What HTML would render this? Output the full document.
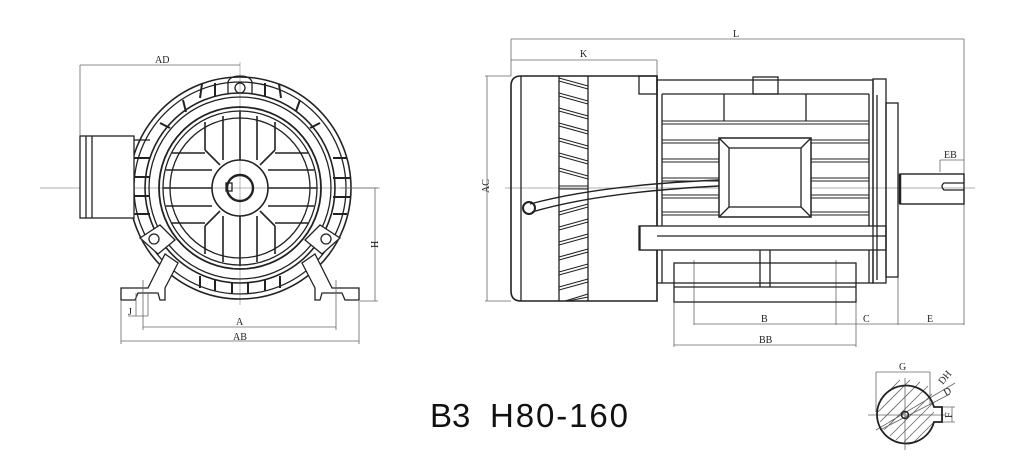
<!DOCTYPE html>
<html><head><meta charset="utf-8"><style>
html,body{margin:0;padding:0;background:#fff;}
svg{display:block}
text{font-family:"Liberation Serif",serif;fill:#222}
</style></head><body>
<svg width="1024" height="459" viewBox="0 0 1024 459" xmlns="http://www.w3.org/2000/svg">
<g fill="none" stroke="#222" stroke-width="1.3">
<line x1="40" y1="188" x2="380" y2="188" stroke="#999" stroke-width="0.7"/>
<line x1="240" y1="62" x2="240" y2="305" stroke="#999" stroke-width="0.7"/>
<circle cx="240" cy="188" r="111" stroke-width="1.6"/>
<circle cx="240" cy="188" r="106"/>
<circle cx="240" cy="188" r="95" stroke-width="1.6"/>
<circle cx="240" cy="188" r="91"/>
<circle cx="240" cy="188" r="81" stroke-width="1.8"/>
<circle cx="240" cy="188" r="77"/>
<circle cx="240" cy="188" r="70"/>
<circle cx="240" cy="188" r="28" stroke-width="1.6"/>
<circle cx="240" cy="188" r="13" stroke-width="2.4"/>
<rect x="226" y="183" width="6" height="8"/>
<g stroke-width="2">
<line x1="202" y1="84" x2="200" y2="98"/><line x1="215" y1="83" x2="215" y2="96"/>
<line x1="265" y1="83" x2="265" y2="96"/><line x1="279" y1="84" x2="281" y2="98"/>
<line x1="300" y1="100" x2="296" y2="111"/><line x1="183" y1="100" x2="186" y2="112"/>
<line x1="160" y1="123" x2="170" y2="128"/><line x1="320" y1="123" x2="310" y2="128"/>
<line x1="134" y1="158" x2="150" y2="158"/><line x1="333" y1="158" x2="347" y2="158"/>
<line x1="134" y1="177" x2="150" y2="177"/><line x1="333" y1="178" x2="350" y2="178"/>
<line x1="134" y1="196" x2="150" y2="196"/><line x1="333" y1="197" x2="350" y2="197"/>
<line x1="135" y1="214" x2="150" y2="214"/><line x1="333" y1="214" x2="347" y2="214"/>
<line x1="200" y1="276" x2="200" y2="288"/><line x1="215" y1="279" x2="215" y2="291"/>
<line x1="232" y1="282" x2="232" y2="293"/><line x1="248" y1="282" x2="248" y2="293"/>
<line x1="265" y1="279" x2="265" y2="291"/><line x1="280" y1="276" x2="280" y2="288"/>
</g>
<path d="M228 94 L228 82 Q230 76 240 76 Q250 76 252 82 L252 94"/>
<circle cx="240" cy="88" r="5"/>
<g stroke-width="1.6">
<line x1="223" y1="116" x2="223" y2="160"/><line x1="240" y1="111" x2="240" y2="160"/><line x1="257" y1="116" x2="257" y2="160"/>
<line x1="223" y1="216" x2="223" y2="262"/><line x1="240" y1="216" x2="240" y2="266"/><line x1="257" y1="216" x2="257" y2="262"/>
<line x1="205" y1="122" x2="205" y2="150"/><line x1="275" y1="122" x2="275" y2="150"/>
<line x1="205" y1="226" x2="205" y2="254"/><line x1="275" y1="226" x2="275" y2="254"/>
<line x1="166" y1="170" x2="212" y2="170"/><line x1="163" y1="188" x2="212" y2="188"/><line x1="166" y1="206" x2="212" y2="206"/>
<line x1="268" y1="170" x2="314" y2="170"/><line x1="268" y1="188" x2="317" y2="188"/><line x1="268" y1="206" x2="314" y2="206"/>
<line x1="172" y1="153" x2="205" y2="153"/><line x1="275" y1="153" x2="308" y2="153"/>
<line x1="172" y1="223" x2="205" y2="223"/><line x1="275" y1="223" x2="308" y2="223"/>
<line x1="205" y1="150" x2="220" y2="165"/><line x1="275" y1="150" x2="260" y2="165"/>
<line x1="205" y1="226" x2="220" y2="211"/><line x1="275" y1="226" x2="260" y2="211"/>
</g>
<rect x="80" y="136" width="54" height="82" fill="#fff"/>
<line x1="86" y1="136" x2="86" y2="218"/><line x1="92" y1="136" x2="92" y2="218"/>
<line x1="134" y1="140" x2="150" y2="140"/><line x1="134" y1="214" x2="150" y2="214"/>
<path d="M140 238 L160 225 L175 240 L158 254 Z" fill="#fff"/>
<circle cx="154" cy="239" r="5"/>
<path d="M340 238 L320 225 L305 240 L322 254 Z" fill="#fff"/>
<circle cx="326" cy="239" r="5"/>
<path d="M121 288 L148 288 L165 254 L178 263 L165 288 L165 300 L160 300 L158 293 L138 293 L135 300 L121 300 Z" fill="#fff"/>
<path d="M359 288 L332 288 L315 254 L302 263 L315 288 L315 300 L320 300 L322 293 L342 293 L345 300 L359 300 Z" fill="#fff"/>
<g stroke="#666" stroke-width="0.8">
<line x1="80" y1="65" x2="240" y2="65"/><line x1="80" y1="65" x2="80" y2="136"/>
<line x1="340" y1="188" x2="378" y2="188"/><line x1="360" y1="301" x2="378" y2="301"/><line x1="375" y1="188" x2="375" y2="301"/>
<line x1="143" y1="280" x2="143" y2="330"/><line x1="336" y1="280" x2="336" y2="330"/><line x1="143" y1="327" x2="336" y2="327"/>
<line x1="121" y1="300" x2="121" y2="344"/><line x1="359" y1="300" x2="359" y2="344"/><line x1="121" y1="341" x2="359" y2="341"/>
<line x1="136" y1="293" x2="136" y2="316"/><line x1="148" y1="293" x2="148" y2="316"/><line x1="128" y1="316" x2="148" y2="316"/>
</g>
<line x1="505" y1="188" x2="975" y2="188" stroke="#999" stroke-width="0.7"/>
<g stroke="#666" stroke-width="0.8">
<line x1="511" y1="39" x2="964" y2="39"/><line x1="511" y1="39" x2="511" y2="76"/><line x1="964" y1="39" x2="964" y2="325"/>
<line x1="511" y1="60" x2="657" y2="60"/><line x1="657" y1="60" x2="657" y2="76"/>
<line x1="487" y1="76" x2="487" y2="301"/><line x1="485" y1="76" x2="511" y2="76"/><line x1="485" y1="301" x2="511" y2="301"/>
<line x1="694" y1="260" x2="694" y2="325"/><line x1="836" y1="260" x2="836" y2="325"/><line x1="694" y1="324" x2="964" y2="324"/>
<line x1="898" y1="240" x2="898" y2="325"/>
<line x1="674" y1="302" x2="674" y2="347"/><line x1="856" y1="302" x2="856" y2="347"/><line x1="674" y1="345" x2="856" y2="345"/>
<line x1="940" y1="160" x2="964" y2="160"/><line x1="940" y1="160" x2="940" y2="172"/>
</g>
<path d="M521 76 L657 76 L657 301 L521 301 Q511 301 511 291 L511 86 Q511 76 521 76 Z" stroke-width="1.6"/>
<line x1="521" y1="76" x2="521" y2="301"/>
<line x1="559" y1="76" x2="559" y2="301"/><line x1="588" y1="76" x2="588" y2="301"/>
<rect x="639" y="76" width="18" height="18"/>
<rect x="639" y="226" width="18" height="24"/>
<g stroke-width="1.1">
<path d="M559 78 L588 86 M559 81 L588 89 M559 93 L588 101 M559 96 L588 104 M559 108 L588 116 M559 111 L588 119 M559 123 L588 131 M559 126 L588 134 M559 138 L588 146 M559 141 L588 149 M559 153 L588 161 M559 156 L588 164 M559 168 L588 176 M559 171 L588 179 M559 186 L588 186 M559 189 L588 189"/>
<path d="M559 212 L588 204 M559 215 L588 207 M559 227 L588 219 M559 230 L588 222 M559 242 L588 234 M559 245 L588 237 M559 257 L588 249 M559 260 L588 252 M559 272 L588 264 M559 275 L588 267 M559 287 L588 279 M559 290 L588 282 M565 301 L588 294 M568 301 L588 297"/>
</g>
<path d="M530 204 Q600 185 719 180 M532 212 Q600 192 719 186" stroke-width="1.4"/>
<circle cx="529" cy="208" r="6" stroke-width="2"/>
<rect x="657" y="80" width="216" height="203"/>
<rect x="753" y="77" width="25" height="17"/>
<line x1="662" y1="94" x2="869" y2="94"/>
<line x1="662" y1="94" x2="662" y2="283"/><line x1="869" y1="94" x2="869" y2="283"/>
<line x1="724" y1="94" x2="724" y2="121"/><line x1="806" y1="94" x2="806" y2="121"/>
<g stroke-width="1.1">
<line x1="662" y1="121" x2="869" y2="121"/><line x1="662" y1="124" x2="869" y2="124"/>
<line x1="662" y1="140" x2="869" y2="140"/><line x1="662" y1="143" x2="869" y2="143"/>
<line x1="662" y1="159" x2="869" y2="159"/><line x1="662" y1="162" x2="869" y2="162"/>
<line x1="662" y1="178" x2="869" y2="178"/><line x1="662" y1="181" x2="869" y2="181"/>
<line x1="662" y1="195" x2="869" y2="195"/><line x1="662" y1="198" x2="869" y2="198"/>
<line x1="662" y1="212" x2="869" y2="212"/><line x1="662" y1="215" x2="869" y2="215"/>
</g>
<rect x="719" y="138" width="92" height="79" fill="#fff" stroke-width="1.5"/>
<rect x="729" y="148" width="72" height="59"/>
<path d="M719 138 L729 148 M811 138 L801 148 M719 217 L729 207 M811 217 L801 207"/>
<rect x="640" y="226" width="246" height="24" fill="#fff"/>
<line x1="657" y1="236" x2="886" y2="236"/>
<line x1="760" y1="250" x2="760" y2="263"/><line x1="770" y1="250" x2="770" y2="263"/>
<rect x="674" y="263" width="182" height="39"/>
<line x1="674" y1="287" x2="856" y2="287"/>
<line x1="760" y1="263" x2="760" y2="287"/><line x1="770" y1="263" x2="770" y2="287"/>
<rect x="873" y="79" width="13" height="204"/>
<line x1="877" y1="95" x2="877" y2="280"/>
<rect x="886" y="103" width="12" height="174"/>
<rect x="900" y="174" width="64" height="30" stroke-width="1.4"/>
<line x1="900" y1="174" x2="900" y2="204" stroke-width="2.5"/>
<path d="M964 183 L944 183 Q940 186 944 190 L964 190"/>
<g stroke="#666" stroke-width="0.8">
<line x1="876" y1="372" x2="930" y2="372"/><line x1="876" y1="372" x2="876" y2="412"/><line x1="930" y1="372" x2="930" y2="405"/>
<line x1="905" y1="378" x2="905" y2="450"/><line x1="868" y1="415" x2="945" y2="415"/>
<line x1="876" y1="430" x2="955" y2="383"/><line x1="880" y1="430" x2="950" y2="394"/>
<line x1="936" y1="407" x2="955" y2="407"/><line x1="936" y1="422" x2="955" y2="422"/><line x1="952" y1="407" x2="952" y2="422"/>
<path d="M880 400 L900 380 M878 412 L910 380 M880 422 L920 382 M884 430 L928 386 M890 436 L932 394 M896 440 L934 402 M904 442 L934 412 M914 442 L933 423"/>
</g>
<path d="M934 407 A29 29 0 1 0 934 422 L942 422 L942 407 Z" stroke-width="1.8"/>
<circle cx="905" cy="415" r="3.5" stroke-width="1.5"/>
</g>
<g font-size="10">
<text x="155" y="63">AD</text>
<text x="370" y="250" transform="rotate(-90 373 245)">H</text>
<text x="236" y="325">A</text>
<text x="233" y="340">AB</text>
<text x="128" y="315">J</text>
<text x="733" y="37">L</text>
<text x="580" y="57">K</text>
<text x="481" y="195" transform="rotate(-90 484 190)">AC</text>
<text x="944" y="158">EB</text>
<text x="761" y="322">B</text>
<text x="863" y="322">C</text>
<text x="927" y="322">E</text>
<text x="759" y="343">BB</text>
<text x="899" y="370">G</text>
<text x="937" y="383" transform="rotate(-50 942 378)">DH</text>
<text x="944" y="395" transform="rotate(-30 947 392)">D</text>
<text x="946" y="418" transform="rotate(-90 949 415)">F</text>
</g>
<text x="430" y="427" font-size="33" style="font-family:'Liberation Sans',sans-serif;fill:#111">B3</text>
<text x="490" y="427" font-size="33" textLength="138" style="font-family:'Liberation Sans',sans-serif;fill:#111">H80-160</text>
</svg>
</body></html>
